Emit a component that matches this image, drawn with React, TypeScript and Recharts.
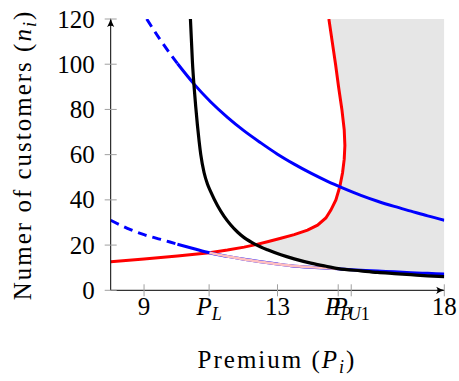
import { ComposedChart, Line, Area, XAxis, YAxis } from 'recharts'

// premium (x) and number of customers (y)
const priceBlack = [10.39, 10.45, 10.5, 10.55, 10.6, 10.65, 10.7, 10.8, 10.9, 11.0, 11.2, 11.4, 11.6, 11.8, 12.0, 12.35, 12.7, 13.1, 13.5, 14.0, 14.5, 14.82, 15.5, 16.0, 16.5, 17.0, 17.5, 18.0]
const custBlack = [120, 101, 90, 81, 73, 66, 60, 52, 47, 43.5, 37.5, 32.7, 28.9, 25.8, 23.3, 20.2, 17.9, 15.7, 13.9, 12.0, 10.5, 9.6, 8.6, 7.9, 7.4, 6.9, 6.4, 6.0]

const priceRed = [8, 9, 10, 10.96, 11.5, 12, 12.35, 12.7, 13.1, 13.5, 13.9, 14.2, 14.45, 14.6, 14.75, 14.87, 14.95, 15.0, 15.02, 15.0, 14.93, 14.83, 14.74, 14.64, 14.54]
const custRed = [12.6, 13.8, 15.2, 16.6, 17.8, 19.1, 20.2, 21.5, 23.0, 24.6, 26.6, 28.8, 32, 35.5, 40, 46, 52, 58, 64, 71, 80, 90, 100, 110, 120]

const priceUpperDash = [9.08, 9.5, 10]
const custUpperDash = [120, 110.5, 100.3]
const priceUpper = [10, 10.5, 11, 11.5, 12, 12.5, 13, 13.5, 14, 14.5, 15, 15.5, 16, 16.5, 17, 17.5, 18]
const custUpper = [100.3, 91.2, 83.3, 76.5, 70.5, 65.2, 60.2, 55.8, 51.8, 48.2, 45, 42, 39.4, 37.1, 35, 32.9, 31]

const priceLowerDash = [8, 8.5, 9, 9.5, 10]
const custLowerDash = [31, 27.4, 24.6, 22.5, 20.4]
const priceLower = [10, 10.5, 10.96, 11.5, 12, 12.5, 13, 13.4, 14, 14.5, 14.9, 15.5, 16, 16.5, 17, 17.5, 18]
const custLower = [20.4, 18.4, 16.6, 15.0, 13.7, 12.6, 11.6, 10.9, 10.2, 9.8, 9.4, 8.9, 8.5, 8.2, 7.8, 7.5, 7.2]

const pricePink = [10.96, 11.5, 12, 12.5, 13, 13.4, 14, 14.5, 14.82]
const custPink = [16.6, 15.0, 13.7, 12.6, 11.6, 10.9, 10.2, 9.8, 9.5]

// shaded region: top edge along red curve then y=120, bottom edge along black curve
const priceShade = [12.35, 12.7, 13.1, 13.5, 13.9, 14.2, 14.45, 14.6, 14.75, 14.87, 14.95, 15.0, 15.02, 15.0, 14.93, 14.83, 14.74, 14.64, 14.54, 15, 16, 17, 18]
const shadeTop = [20.2, 21.5, 23.0, 24.6, 26.6, 28.8, 32, 35.5, 40, 46, 52, 58, 64, 71, 80, 90, 100, 110, 120, 120, 120, 120, 120]
const shadeBottom = [20.2, 17.9, 15.7, 13.9, 12.4, 11.5, 10.7, 10.3, 9.8, 9.5, 9.4, 9.3, 9.2, 9.3, 9.4, 9.6, 9.8, 10.1, 10.4, 9.3, 7.9, 6.9, 6.0]

const P_L = 10.95
const P_P = 14.82
const P_U1 = 15.21
const xTicks = [9, P_L, 13, P_P, P_U1, 18]
const yTicks = [0, 20, 40, 60, 80, 100, 120]

const pts = (xs: number[], ys: number[]) => xs.map((p, i) => ({ p, n: ys[i] }))
const shadeData = priceShade.map((p, i) => ({ p, range: [shadeBottom[i], shadeTop[i]] }))

const txt = { fontFamily: 'Liberation Serif, DejaVu Serif, serif', fontSize: 25 }

function XTick(props: any) {
  const { x, y, payload } = props
  const v = payload.value
  let label: any = String(v)
  if (v === P_L) label = <><tspan fontStyle="italic">P</tspan><tspan fontStyle="italic" fontSize={18} dy={5}>L</tspan></>
  if (v === P_P) label = <><tspan fontStyle="italic">P</tspan><tspan fontStyle="italic" fontSize={18} dy={5}>P</tspan></>
  if (v === P_U1) label = <><tspan fontStyle="italic">P</tspan><tspan fontStyle="italic" fontSize={18} dy={5}>U</tspan><tspan fontSize={18}>1</tspan></>
  return (
    <g>
      <line x1={x} x2={x} y1={y - 6} y2={y + 6} stroke="#a0a0a0" strokeWidth={1} />
      <text x={x} y={y + 25} textAnchor="middle" style={txt} fill="#000">{label}</text>
    </g>
  )
}

function YTick(props: any) {
  const { x, y, payload } = props
  return (
    <g>
      <line x1={x - 6} x2={x + 6} y1={y} y2={y} stroke="#a0a0a0" strokeWidth={1} />
      <text x={x - 16} y={y} dy="0.34em" textAnchor="end" style={txt} fill="#000">{payload.value}</text>
    </g>
  )
}

export default function App() {
  return (
    <div style={{ position: 'absolute', left: 0, top: 0 }}>
      <ComposedChart width={459} height={381} margin={{ top: 19, right: 14.7, bottom: 60.7, left: 0 }}>
        <defs>
          <marker id="arr" viewBox="0 0 10 10" refX="9" refY="5" markerWidth="9" markerHeight="9" orient="auto-start-reverse" markerUnits="userSpaceOnUse">
            <path d="M0,1 Q5,4 10,5 Q5,6 0,9 Q3,5 0,1 Z" fill="#000" />
          </marker>
        </defs>
        <XAxis
          dataKey="p"
          type="number"
          domain={[8, 18]}
          allowDataOverflow
          ticks={xTicks}
          interval={0}
          height={30}
          tickSize={0}
          tickMargin={0}
          tick={<XTick />}
          axisLine={{ stroke: '#000', strokeWidth: 1, markerEnd: 'url(#arr)' }}
        />
        <YAxis
          type="number"
          domain={[0, 120]}
          allowDataOverflow
          ticks={yTicks}
          interval={0}
          width={110.7}
          tickSize={0}
          tickMargin={0}
          tick={<YTick />}
          axisLine={{ stroke: '#000', strokeWidth: 1, markerStart: 'url(#arr)' }}
        />
        <Area data={shadeData} dataKey="range" type="linear" fill="#e6e6e6" fillOpacity={1} stroke="none" isAnimationActive={false} />
        <Line data={pts(priceRed, custRed)} dataKey="n" type="linear" stroke="#ff0000" strokeWidth={3} dot={false} isAnimationActive={false} />
        <Line data={pts(priceUpperDash, custUpperDash)} dataKey="n" type="monotone" stroke="#0000ff" strokeWidth={3} strokeDasharray="9 6" dot={false} isAnimationActive={false} />
        <Line data={pts(priceUpper, custUpper)} dataKey="n" type="monotone" stroke="#0000ff" strokeWidth={3} dot={false} isAnimationActive={false} />
        <Line data={pts(priceLowerDash, custLowerDash)} dataKey="n" type="monotone" stroke="#0000ff" strokeWidth={3} strokeDasharray="9 6" dot={false} isAnimationActive={false} />
        <Line data={pts(priceLower, custLower)} dataKey="n" type="monotone" stroke="#0000ff" strokeWidth={3} dot={false} isAnimationActive={false} />
        <Line data={pts(pricePink, custPink)} dataKey="n" type="monotone" stroke="#ffbfbf" strokeWidth={2.7} dot={false} isAnimationActive={false} />
        <Line data={pts(priceBlack, custBlack)} dataKey="n" type="monotone" stroke="#000000" strokeWidth={3.2} dot={false} isAnimationActive={false} />
        <text x={277} y={368} textAnchor="middle" style={{ ...txt, letterSpacing: 2 }} fill="#000">
          Premium (<tspan fontStyle="italic">P</tspan><tspan fontStyle="italic" fontSize={18} dy={5}>i</tspan><tspan dy={-5}>)</tspan>
        </text>
        <text x={31} y={155} textAnchor="middle" style={{ ...txt, letterSpacing: 2 }} fill="#000" transform="rotate(-90, 31, 155)">
          Numer of customers (<tspan fontStyle="italic">n</tspan><tspan fontStyle="italic" fontSize={18} dy={5}>i</tspan><tspan dy={-5}>)</tspan>
        </text>
      </ComposedChart>
    </div>
  )
}
